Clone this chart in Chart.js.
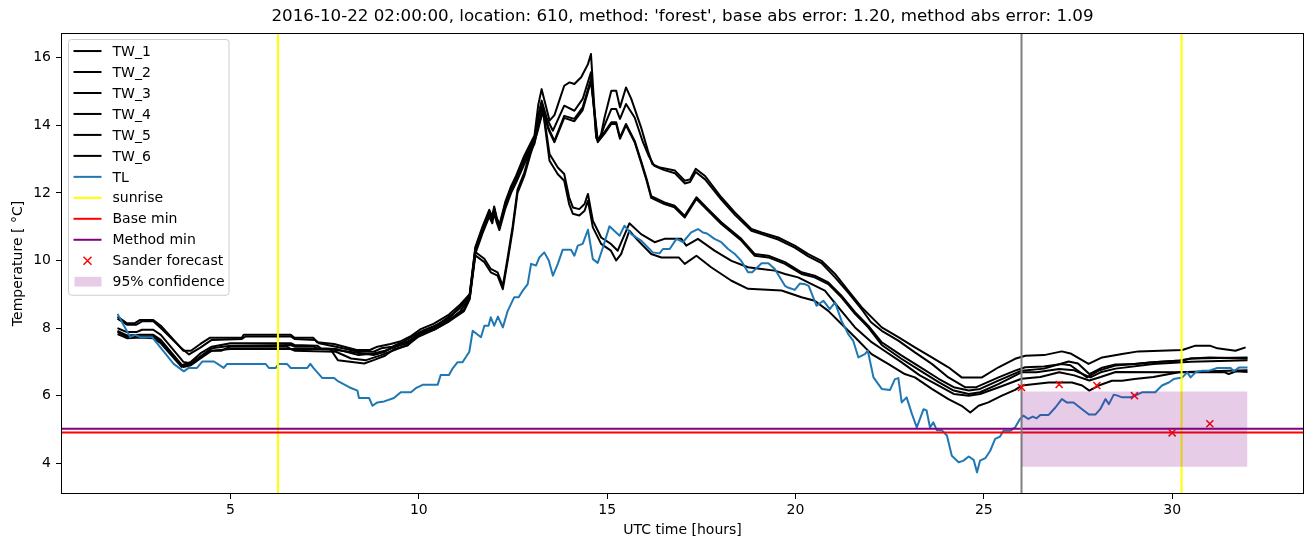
<!DOCTYPE html>
<html>
<head>
<meta charset="utf-8">
<title>TW / TL temperatures</title>
<script src="https://cdn.jsdelivr.net/npm/chart.js@4.4.1/dist/chart.umd.min.js"></script>
<style>
  html, body { margin: 0; padding: 0; background: #fff; }
  #chart { display: block; }
</style>
</head>
<body>
<canvas id="chart" width="1311" height="547"></canvas>
<script>
// axis limits and ticks
const X_MIN = 0.5;
const X_MAX = 33.5;
const Y_MIN = 3.09;
const Y_MAX = 16.73;
const xTicks = [5, 10, 15, 20, 25, 30];
const yTicks = [4, 6, 8, 10, 12, 14, 16];

const titleText = "2016-10-22 02:00:00, location: 610, method: 'forest', base abs error: 1.20, method abs error: 1.09";

// [hour, temperature]
const tw1 = [[2.0,8.34],[2.25,8.14],[2.45,8.14],[2.6,8.24],[2.95,8.24],[3.15,8.07],[3.75,7.33],[3.95,7.33],[4.2,7.53],[4.45,7.71],[5.3,7.71],[5.35,7.8],[6.6,7.8],[6.7,7.71],[7.2,7.71],[7.3,7.58],[7.75,7.53],[8.35,7.35],[8.7,7.35],[8.9,7.45],[9.25,7.53],[9.5,7.6],[9.8,7.77],[10.05,7.97],[10.4,8.13],[10.8,8.4],[11.1,8.7],[11.35,9.0],[11.5,10.4],[11.69,11.0],[11.87,11.5],[11.95,11.3],[12.0,11.6],[12.06,11.3],[12.14,11.05],[12.3,11.75],[12.45,12.2],[12.58,12.5],[12.8,13.1],[13.07,13.7],[13.17,14.6],[13.26,15.07],[13.47,14.14],[13.6,14.3],[13.86,15.17],[14.0,15.27],[14.13,15.22],[14.31,15.42],[14.49,15.81],[14.57,16.11],[14.71,13.64],[14.75,13.54],[14.84,13.74],[14.93,14.23],[15.11,15.02],[15.24,15.02],[15.34,14.53],[15.5,15.12],[15.64,14.78],[15.9,13.94],[16.08,13.25],[16.2,12.85],[16.4,12.75],[16.8,12.66],[17.06,12.36],[17.2,12.4],[17.35,12.71],[17.6,12.5],[18.03,11.87],[18.39,11.42],[18.83,10.93],[19.1,10.83],[19.54,10.68],[19.98,10.44],[20.34,10.19],[20.69,9.99],[21.05,9.6],[21.4,9.11],[21.76,8.61],[22.11,8.22],[22.29,8.02],[22.73,7.73],[23.17,7.43],[23.62,7.13],[24.06,6.84],[24.41,6.54],[24.95,6.54],[25.39,6.84],[25.83,7.09],[26.1,7.18],[26.6,7.2],[27.07,7.31],[27.3,7.25],[27.78,6.94],[28.14,7.13],[28.67,7.23],[29.1,7.31],[30.27,7.35],[30.62,7.48],[31.0,7.48],[31.2,7.4],[31.68,7.33],[31.95,7.43]];
const tw2 = [[2.0,8.28],[2.25,8.1],[2.5,8.1],[2.65,8.2],[2.95,8.2],[3.15,8.0],[3.7,7.4],[3.9,7.22],[4.2,7.42],[4.5,7.65],[5.3,7.68],[5.4,7.75],[6.6,7.75],[6.7,7.68],[7.25,7.65],[7.35,7.55],[7.8,7.45],[8.4,7.3],[8.8,7.3],[9.0,7.4],[9.3,7.45],[9.6,7.6],[9.9,7.8],[10.1,7.92],[10.5,8.1],[10.9,8.42],[11.2,8.75],[11.35,8.95],[11.5,10.3],[11.69,10.9],[11.87,11.4],[11.95,11.2],[12.0,11.5],[12.06,11.25],[12.14,11.0],[12.3,11.65],[12.45,12.1],[12.58,12.4],[12.8,12.95],[13.07,13.55],[13.17,14.3],[13.26,14.73],[13.4,14.2],[13.56,13.84],[13.86,14.58],[14.13,14.43],[14.35,14.78],[14.57,15.57],[14.71,13.64],[14.75,13.56],[14.84,13.7],[14.93,14.0],[15.11,14.48],[15.24,14.48],[15.34,14.19],[15.5,14.63],[15.73,14.23],[15.95,13.5],[16.1,13.1],[16.25,12.8],[16.5,12.68],[16.8,12.58],[17.06,12.28],[17.2,12.32],[17.35,12.62],[17.6,12.4],[18.03,11.8],[18.39,11.35],[18.83,10.88],[19.1,10.78],[19.54,10.62],[19.98,10.38],[20.34,10.12],[20.69,9.92],[21.05,9.5],[21.4,9.05],[21.76,8.55],[22.0,8.18],[22.29,7.92],[22.73,7.63],[23.17,7.28],[23.62,6.94],[24.06,6.54],[24.5,6.25],[24.8,6.25],[25.39,6.54],[25.83,6.74],[26.1,6.84],[26.6,6.86],[27.07,6.94],[27.3,6.9],[27.74,6.54],[28.05,6.74],[28.49,6.89],[29.0,6.94],[29.47,6.99],[30.27,7.04],[30.5,7.1],[32.0,7.13]];
const tw3 = [[2.0,8.0],[2.25,7.88],[2.5,7.88],[2.65,7.95],[2.95,7.95],[3.15,7.8],[3.75,7.0],[3.95,6.95],[4.25,7.2],[4.5,7.4],[5.0,7.48],[6.6,7.5],[6.7,7.45],[7.2,7.45],[7.35,7.38],[7.8,7.35],[8.3,7.28],[8.8,7.2],[9.1,7.3],[9.4,7.5],[9.7,7.6],[10.0,7.8],[10.4,8.0],[10.8,8.25],[11.2,8.55],[11.35,8.9],[11.5,10.25],[11.74,10.05],[11.91,9.75],[12.09,9.65],[12.23,9.25],[12.36,10.1],[12.49,11.0],[12.62,12.1],[12.8,12.6],[12.98,13.3],[13.15,13.9],[13.29,14.53],[13.45,13.9],[13.6,13.54],[13.86,14.28],[14.13,14.19],[14.35,14.53],[14.57,15.37],[14.75,13.55],[14.93,13.8],[15.11,14.09],[15.24,14.09],[15.34,13.64],[15.5,14.04],[15.73,13.54],[15.9,12.95],[16.05,12.4],[16.17,11.9],[16.52,11.72],[16.79,11.62],[17.06,11.32],[17.37,11.87],[17.68,11.52],[18.03,11.13],[18.56,10.64],[18.92,10.19],[19.28,10.14],[19.72,9.95],[20.16,9.65],[20.51,9.55],[20.87,9.35],[21.22,8.96],[21.58,8.47],[21.93,8.07],[22.29,7.58],[22.8,7.2],[23.3,6.85],[23.8,6.5],[24.2,6.25],[24.6,6.15],[24.9,6.2],[25.4,6.45],[26.0,6.74],[26.6,6.8],[27.25,7.01],[27.5,6.95],[27.8,6.64],[28.14,6.83],[28.49,6.92],[29.0,6.94],[29.5,6.99],[30.2,7.04],[30.5,7.1],[31.0,7.13],[32.0,7.1]];
const tw4 = [[2.0,7.92],[2.25,7.78],[2.6,7.8],[2.95,7.8],[3.15,7.65],[3.75,6.85],[3.95,6.9],[4.2,7.1],[4.5,7.33],[4.75,7.33],[5.0,7.45],[6.5,7.45],[6.6,7.38],[7.65,7.38],[7.85,7.05],[8.55,6.95],[8.8,7.05],[9.1,7.18],[9.35,7.38],[9.7,7.48],[10.05,7.85],[10.4,7.95],[10.8,8.2],[11.2,8.5],[11.35,8.85],[11.5,10.15],[11.74,9.95],[11.91,9.65],[12.09,9.55],[12.23,9.15],[12.36,10.0],[12.49,10.9],[12.62,12.0],[12.8,12.5],[12.98,13.2],[13.15,13.8],[13.29,14.42],[13.45,13.85],[13.6,13.5],[13.86,14.22],[14.13,14.12],[14.35,14.45],[14.57,15.3],[14.75,13.5],[14.93,13.75],[15.11,14.04],[15.24,14.04],[15.34,13.6],[15.5,14.0],[15.73,13.5],[15.9,12.9],[16.05,12.35],[16.17,11.85],[16.52,11.67],[16.79,11.57],[17.06,11.27],[17.37,11.82],[17.68,11.47],[18.03,11.08],[18.56,10.59],[18.92,10.14],[19.28,10.09],[19.72,9.9],[20.16,9.6],[20.51,9.5],[20.87,9.3],[21.22,8.91],[21.58,8.42],[21.93,8.02],[22.29,7.5],[22.8,7.1],[23.3,6.75],[23.8,6.4],[24.2,6.15],[24.6,6.05],[24.9,6.1],[25.4,6.35],[26.0,6.69],[26.4,6.69],[27.0,6.79],[27.4,6.75],[27.83,6.54],[28.1,6.69],[28.5,6.8],[29.5,6.94],[30.5,7.0],[32.0,7.05]];
const tw5 = [[2.0,7.88],[2.25,7.75],[2.6,7.75],[2.95,7.75],[3.15,7.6],[3.7,6.9],[3.95,7.0],[4.2,7.25],[4.5,7.45],[5.0,7.55],[6.6,7.55],[6.7,7.5],[7.3,7.48],[7.4,7.4],[7.8,7.38],[8.4,7.2],[8.8,7.25],[9.1,7.33],[9.4,7.45],[9.7,7.55],[10.0,7.85],[10.4,8.05],[10.8,8.3],[11.1,8.6],[11.35,9.0],[11.5,10.35],[11.69,10.95],[11.87,11.45],[11.95,11.25],[12.0,11.55],[12.06,11.28],[12.14,11.02],[12.3,11.7],[12.45,12.15],[12.58,12.45],[12.8,13.0],[13.07,13.6],[13.17,14.2],[13.28,14.6],[13.47,13.15],[13.69,12.75],[13.86,12.56],[13.99,11.87],[14.09,11.57],[14.26,11.52],[14.4,11.67],[14.49,11.97],[14.62,11.18],[14.84,10.68],[15.1,10.49],[15.28,10.29],[15.59,11.1],[15.9,10.78],[16.26,10.54],[16.52,10.64],[16.97,10.64],[17.1,10.44],[17.41,10.64],[17.85,10.29],[18.3,9.99],[18.74,9.8],[19.1,9.75],[19.45,9.7],[19.72,9.6],[20.07,9.5],[20.43,9.3],[20.78,9.11],[21.14,8.61],[21.58,8.02],[22.0,7.6],[22.29,7.38],[22.8,7.0],[23.3,6.6],[23.8,6.3],[24.2,6.05],[24.6,6.0],[24.9,6.05],[25.4,6.25],[26.0,6.5],[26.5,6.55],[27.0,6.69],[27.4,6.6],[27.8,6.45],[28.1,6.55],[28.5,6.7],[30.2,6.69],[31.4,6.69],[31.5,6.64],[31.7,6.72],[32.0,6.7]];
const tw6 = [[2.0,7.82],[2.25,7.7],[2.6,7.72],[2.95,7.7],[3.15,7.55],[3.7,6.85],[3.95,6.95],[4.2,7.15],[4.5,7.33],[5.0,7.38],[6.6,7.38],[6.7,7.33],[7.8,7.3],[8.2,7.1],[8.6,7.05],[9.0,7.2],[9.3,7.33],[9.7,7.5],[10.0,7.75],[10.4,7.95],[10.8,8.2],[11.1,8.5],[11.35,8.9],[11.5,10.2],[11.69,10.8],[11.87,11.3],[11.95,11.1],[12.0,11.4],[12.06,11.15],[12.14,10.9],[12.3,11.55],[12.45,12.0],[12.58,12.3],[12.8,12.85],[13.07,13.45],[13.17,14.0],[13.3,14.4],[13.47,12.95],[13.69,12.55],[13.86,12.36],[13.99,11.67],[14.09,11.38],[14.26,11.33],[14.4,11.47],[14.49,11.77],[14.62,10.98],[14.84,10.49],[15.1,10.29],[15.24,10.0],[15.37,10.19],[15.59,10.88],[15.82,10.59],[16.17,10.19],[16.44,10.09],[16.9,10.09],[17.06,9.9],[17.37,10.14],[17.76,9.8],[18.3,9.4],[18.74,9.16],[19.63,9.11],[20.16,8.91],[20.51,8.81],[20.87,8.51],[21.22,8.12],[21.58,7.73],[22.02,7.23],[22.46,6.94],[22.9,6.64],[23.17,6.54],[23.62,6.2],[24.06,5.9],[24.41,5.7],[24.64,5.5],[24.86,5.7],[25.12,5.8],[25.48,6.0],[25.83,6.17],[26.01,6.3],[26.72,6.39],[27.34,6.39],[27.61,6.3],[27.8,6.15],[28.05,6.3],[28.4,6.44],[28.67,6.44],[29.0,6.49],[29.5,6.55],[30.18,6.69],[31.0,6.72],[32.0,6.75]];
const tl = [[2.0,8.42],[2.34,7.73],[2.47,7.8],[2.6,7.73],[2.92,7.73],[3.49,6.94],[3.76,6.72],[3.89,6.82],[4.11,6.82],[4.25,7.01],[4.56,7.01],[4.82,6.82],[4.91,6.94],[5.93,6.94],[6.02,6.82],[6.2,6.82],[6.28,6.94],[6.5,6.94],[6.6,6.82],[7.04,6.82],[7.12,6.94],[7.2,6.82],[7.44,6.52],[7.75,6.52],[7.84,6.44],[8.15,6.25],[8.37,6.15],[8.41,5.93],[8.68,5.93],[8.77,5.7],[8.9,5.8],[9.08,5.83],[9.34,5.93],[9.52,6.1],[9.79,6.1],[9.92,6.22],[10.1,6.32],[10.5,6.32],[10.58,6.61],[10.8,6.61],[10.9,6.81],[11.03,6.99],[11.16,6.99],[11.34,7.3],[11.43,7.92],[11.65,7.73],[11.74,8.07],[11.85,8.07],[11.91,8.32],[12.0,8.07],[12.1,8.34],[12.23,8.02],[12.36,8.51],[12.53,8.91],[12.65,8.91],[12.76,9.11],[12.89,9.3],[12.98,9.9],[13.11,9.85],[13.2,10.09],[13.33,10.24],[13.45,10.0],[13.56,9.55],[13.69,9.9],[13.82,10.32],[14.04,10.32],[14.13,10.14],[14.22,10.44],[14.35,10.49],[14.49,10.91],[14.62,10.04],[14.75,9.93],[14.89,10.39],[15.06,11.01],[15.33,10.73],[15.46,11.03],[15.64,10.78],[15.9,10.59],[16.21,10.24],[16.39,10.21],[16.48,10.34],[16.66,10.34],[16.84,10.64],[17.01,10.54],[17.23,10.83],[17.41,10.93],[17.54,10.83],[17.65,10.8],[17.85,10.64],[18.03,10.54],[18.21,10.34],[18.39,10.19],[18.56,9.99],[18.74,9.65],[18.85,9.65],[19.1,9.92],[19.28,9.92],[19.45,9.75],[19.72,9.25],[19.8,9.2],[19.98,9.13],[20.12,9.32],[20.25,9.3],[20.35,9.25],[20.56,8.66],[20.74,8.81],[20.91,8.56],[21.05,8.76],[21.22,8.22],[21.4,7.82],[21.53,7.63],[21.67,7.13],[21.84,7.23],[21.92,7.33],[22.07,6.54],[22.29,6.2],[22.51,6.17],[22.64,6.49],[22.73,6.52],[22.82,5.8],[22.95,5.95],[23.09,5.46],[23.22,5.06],[23.4,5.6],[23.48,5.56],[23.57,5.06],[23.66,5.21],[23.75,4.98],[23.88,4.98],[24.02,4.82],[24.15,4.22],[24.33,4.03],[24.45,4.07],[24.6,4.2],[24.73,4.1],[24.82,3.73],[24.9,4.08],[25.04,4.15],[25.17,4.37],[25.3,4.72],[25.43,4.79],[25.52,4.96],[25.7,4.96],[25.83,5.06],[25.96,5.31],[26.05,5.41],[26.18,5.31],[26.3,5.38],[26.4,5.33],[26.5,5.43],[26.72,5.43],[26.9,5.65],[27.07,5.9],[27.2,5.8],[27.38,5.8],[27.61,5.6],[27.79,5.44],[27.96,5.44],[28.09,5.6],[28.23,5.9],[28.32,5.75],[28.45,6.03],[28.55,6.0],[28.67,5.95],[28.89,5.95],[29.11,6.05],[29.2,6.1],[29.55,6.1],[29.73,6.3],[29.91,6.39],[30.04,6.49],[30.27,6.54],[30.4,6.69],[30.49,6.54],[30.62,6.69],[30.8,6.74],[30.98,6.74],[31.2,6.82],[31.55,6.82],[31.64,6.72],[31.77,6.83],[32.0,6.83]];

const sunriseHours = [6.26, 30.25];
const forecastHour = 26.0;
const baseMin = 4.91;
const methodMin = 5.02;
const sanderHours = [26, 27, 28, 29, 30, 31];
const sanderTemps = [6.24, 6.33, 6.3, 6.0, 4.9, 5.17];
const confHours = [26, 32];
const confLow = 3.9;
const confHigh = 6.12;

const FONT = 'DejaVu Sans';
const toPoints = pairs => pairs.map(([x, y]) => ({ x, y }));

const lineSet = (label, pairs, color) => ({
  label,
  data: toPoints(pairs),
  borderColor: color,
  backgroundColor: color,
  borderWidth: 2,
  pointRadius: 0,
  tension: 0,
  borderJoinStyle: 'round',
  legendKind: 'line',
});

const datasets = [
  lineSet('TW_1', tw1, '#000000'),
  lineSet('TW_2', tw2, '#000000'),
  lineSet('TW_3', tw3, '#000000'),
  lineSet('TW_4', tw4, '#000000'),
  lineSet('TW_5', tw5, '#000000'),
  lineSet('TW_6', tw6, '#000000'),
  lineSet('TL', tl, '#1f77b4'),
  lineSet('sunrise', [[sunriseHours[0], Y_MIN], [sunriseHours[0], Y_MAX]], '#ffff00'),
  { ...lineSet('', [[sunriseHours[1], Y_MIN], [sunriseHours[1], Y_MAX]], '#ffff00'), legendKind: null },
  lineSet('Base min', [[X_MIN, baseMin], [X_MAX, baseMin]], '#ff0000'),
  lineSet('Method min', [[X_MIN, methodMin], [X_MAX, methodMin]], '#800080'),
  { ...lineSet('', [[forecastHour, Y_MIN], [forecastHour, Y_MAX]], '#808080'), legendKind: null },
  {
    label: 'Sander forecast',
    data: sanderHours.map((h, i) => ({ x: h, y: sanderTemps[i] })),
    showLine: false,
    pointStyle: 'crossRot',
    pointRadius: 5,
    borderWidth: 1.5,
    borderColor: '#ff0000',
    backgroundColor: '#ff0000',
    legendKind: 'marker',
  },
  {
    label: '95% confidence',
    data: confHours.map(h => ({ x: h, y: confHigh })),
    borderWidth: 0,
    borderColor: 'rgba(0,0,0,0)',
    pointRadius: 0,
    fill: { value: confLow },
    backgroundColor: 'rgba(128,0,128,0.2)',
    legendKind: 'patch',
  },
];
datasets.forEach((d, i) => { d.order = -i; });

// matplotlib style box around the axes
const framePlugin = {
  id: 'frame',
  afterDatasetsDraw(chart) {
    const { ctx, chartArea: a } = chart;
    ctx.save();
    ctx.strokeStyle = '#000';
    ctx.lineWidth = 1;
    ctx.strokeRect(Math.round(a.left) + 0.5, Math.round(a.top) + 0.5,
      Math.round(a.right - a.left) - 1, Math.round(a.bottom - a.top) - 1);
    ctx.restore();
  },
};

const legendPlugin = {
  id: 'boxLegend',
  afterDraw(chart) {
    const { ctx, chartArea: a } = chart;
    const items = chart.data.datasets.filter(d => d.legendKind);
    const rowH = 20.97;
    const x0 = a.left + 7.5;
    const y0 = a.top + 6.5;
    const w = 160.5;
    const h = 11.5 + rowH * (items.length - 1) + 12.5 + 1;
    const r = 3;

    ctx.save();
    ctx.beginPath();
    ctx.moveTo(x0 + r, y0);
    ctx.arcTo(x0 + w, y0, x0 + w, y0 + h, r);
    ctx.arcTo(x0 + w, y0 + h, x0, y0 + h, r);
    ctx.arcTo(x0, y0 + h, x0, y0, r);
    ctx.arcTo(x0, y0, x0 + w, y0, r);
    ctx.closePath();
    ctx.fillStyle = 'rgba(255,255,255,0.8)';
    ctx.fill();
    ctx.strokeStyle = '#cccccc';
    ctx.lineWidth = 1;
    ctx.stroke();

    ctx.font = `14px "${FONT}"`;
    ctx.textBaseline = 'middle';
    ctx.textAlign = 'left';
    items.forEach((d, i) => {
      const cy = y0 + 11.5 + i * rowH;
      const hx0 = x0 + 5, hx1 = x0 + 33;
      if (d.legendKind === 'line') {
        ctx.strokeStyle = d.borderColor;
        ctx.lineWidth = 2;
        ctx.beginPath();
        ctx.moveTo(hx0, cy);
        ctx.lineTo(hx1, cy);
        ctx.stroke();
      } else if (d.legendKind === 'marker') {
        const cx = (hx0 + hx1) / 2, s = 4;
        ctx.strokeStyle = d.borderColor;
        ctx.lineWidth = 1.5;
        ctx.beginPath();
        ctx.moveTo(cx - s, cy - s); ctx.lineTo(cx + s, cy + s);
        ctx.moveTo(cx - s, cy + s); ctx.lineTo(cx + s, cy - s);
        ctx.stroke();
      } else if (d.legendKind === 'patch') {
        ctx.fillStyle = d.backgroundColor;
        ctx.fillRect(hx0 + 1, cy - 4.85, 27, 9.7);
      }
      ctx.fillStyle = '#000';
      ctx.fillText(d.label, x0 + 44, cy + 1);
    });
    ctx.restore();
  },
};

new Chart(document.getElementById('chart'), {
  type: 'line',
  data: { datasets },
  options: {
    responsive: false,
    animation: false,
    devicePixelRatio: 1,
    layout: { padding: { top: 0, right: 7, bottom: 0, left: 0 } },
    plugins: {
      legend: { display: false },
      tooltip: { enabled: false },
      title: {
        display: true,
        text: titleText,
        fullSize: false,
        color: '#000',
        font: { family: FONT, size: 16.7, weight: 'normal', lineHeight: 1.2 },
        padding: { top: 7, bottom: 6 },
      },
    },
    scales: {
      x: {
        type: 'linear',
        min: X_MIN,
        max: X_MAX,
        afterBuildTicks: scale => { scale.ticks = xTicks.map(value => ({ value })); },
        afterFit: scale => { scale.height = 53; },
        grid: { display: true, drawOnChartArea: false, drawTicks: true, tickLength: 5, tickColor: '#000', tickWidth: 1 },
        border: { display: false },
        ticks: { color: '#000', padding: 3, maxRotation: 0, font: { family: FONT, size: 14 } },
        title: { display: true, text: 'UTC time [hours]', color: '#000', font: { family: FONT, size: 14 }, padding: { top: 0, bottom: 8 } },
      },
      y: {
        type: 'linear',
        min: Y_MIN,
        max: Y_MAX,
        afterBuildTicks: scale => { scale.ticks = yTicks.map(value => ({ value })); },
        afterFit: scale => { scale.width = 61; },
        grid: { display: true, drawOnChartArea: false, drawTicks: true, tickLength: 5, tickColor: '#000', tickWidth: 1 },
        border: { display: false },
        ticks: { color: '#000', padding: 5, font: { family: FONT, size: 14 } },
        title: { display: true, text: 'Temperature [ °C]', color: '#000', font: { family: FONT, size: 14 }, padding: { top: 10, bottom: 0 } },
      },
    },
  },
  plugins: [framePlugin, legendPlugin],
});
</script>
</body>
</html>
